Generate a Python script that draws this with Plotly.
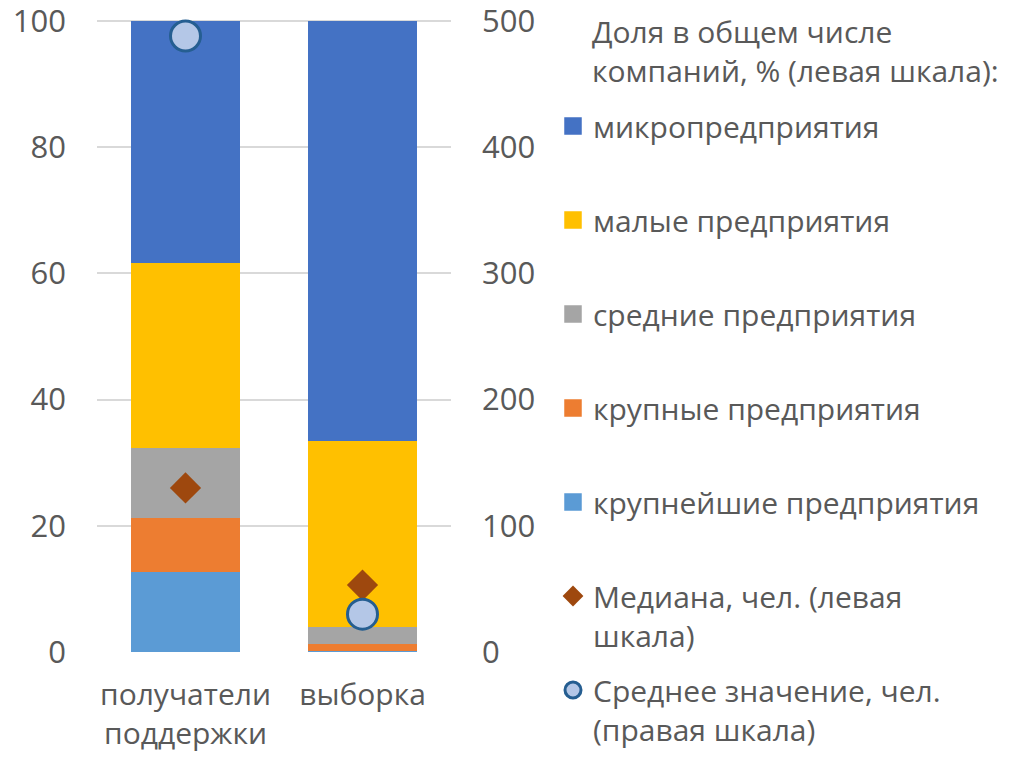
import plotly.graph_objects as go

# Categories (x axis)
categories = ["получатели<br>поддержки", "выборка"]

# Share of companies by size, % (left axis), bottom segment first
largest = [12.6, 0.2]
large = [8.7, 1.1]
medium = [11.0, 2.6]
small = [29.3, 29.5]
micro = [38.4, 66.6]

# Median headcount (left axis) and mean headcount (right axis)
median_staff = [26.0, 10.6]
mean_staff = [488, 30]

series_names = [
    "крупнейшие предприятия",
    "крупные предприятия",
    "средние предприятия",
    "малые предприятия",
    "микропредприятия",
]
series_values = [largest, large, medium, small, micro]
series_colors = ["#5B9BD5", "#ED7D31", "#A5A5A5", "#FFC000", "#4472C4"]
legend_ranks = [5, 4, 3, 2, 1]

FONT = "Open Sans"
TEXT = "#595959"
FS_LEGEND = 30
FS_YTICK = 31
FS_XTICK = 30

# a small headroom so the top gridline (100 / 500) is still drawn
LEFT_RANGE = [0, 100.3]
RIGHT_RANGE = [0, 501.5]

fig = go.Figure()

for name, vals, color, rank in zip(series_names, series_values, series_colors, legend_ranks):
    fig.add_trace(go.Bar(
        x=categories, y=vals, name=name, marker=dict(color=color, line=dict(width=0)),
        legendgroup=name, showlegend=False, yaxis="y",
    ))
    # legend entry with a larger square swatch
    fig.add_trace(go.Scatter(
        x=[None], y=[None], mode="markers", name=name + "<br> ",
        legendgroup=name, legendrank=rank,
        marker=dict(symbol="square", size=16, color=color, line=dict(width=1.5, color=color)),
    ))

fig.add_trace(go.Scatter(
    x=categories, y=median_staff, mode="markers", name="Медиана, чел. (левая<br>шкала)",
    legendrank=6, yaxis="y",
    marker=dict(symbol="diamond", size=24, color="#9E480E", line=dict(width=0)),
))
fig.add_trace(go.Scatter(
    x=categories, y=mean_staff, mode="markers", name="Среднее значение, чел.<br>(правая шкала)",
    legendrank=7, yaxis="y2",
    marker=dict(symbol="circle", size=30, color="#B4C7E7", line=dict(width=3, color="#255E91")),
))

fig.add_annotation(
    text="Доля в общем числе<br>компаний, % (левая шкала):",
    xref="paper", yref="paper", x=(590 - 97) / 354, y=(652 - 9) / 633,
    xanchor="left", yanchor="top", align="left", showarrow=False,
    font=dict(family=FONT, size=FS_LEGEND, color=TEXT),
)

fig.update_layout(
    width=1018, height=761,
    margin=dict(l=97, r=567, t=19, b=109),
    paper_bgcolor="white", plot_bgcolor="white",
    barmode="stack", bargap=0.38,
    font=dict(family=FONT, color=TEXT),
    xaxis=dict(
        tickfont=dict(family=FONT, size=FS_XTICK, color=TEXT), automargin=False,
        showline=False, showgrid=False, ticks="", ticklabelstandoff=22,
    ),
    yaxis=dict(
        range=LEFT_RANGE, dtick=20, showgrid=True, gridcolor="#D9D9D9", gridwidth=2,
        zeroline=False, showline=False, ticks="", ticklabelstandoff=30, automargin=False,
        ticklabeloverflow="allow",
        tickfont=dict(family=FONT, size=FS_YTICK, color=TEXT),
    ),
    yaxis2=dict(
        range=RIGHT_RANGE, dtick=100, overlaying="y", side="right", showgrid=False,
        zeroline=False, showline=False, ticks="", ticklabelstandoff=30, automargin=False,
        ticklabeloverflow="allow",
        tickfont=dict(family=FONT, size=FS_YTICK, color=TEXT),
    ),
    legend=dict(
        xref="container", yref="container", x=553 / 1018, y=1 - 100 / 761,
        xanchor="left", yanchor="top", valign="top", maxheight=761,
        font=dict(family=FONT, size=FS_LEGEND, color=TEXT),
        tracegroupgap=13, bgcolor="rgba(0,0,0,0)",
    ),
    showlegend=True,
)

fig.write_html("out.html")
